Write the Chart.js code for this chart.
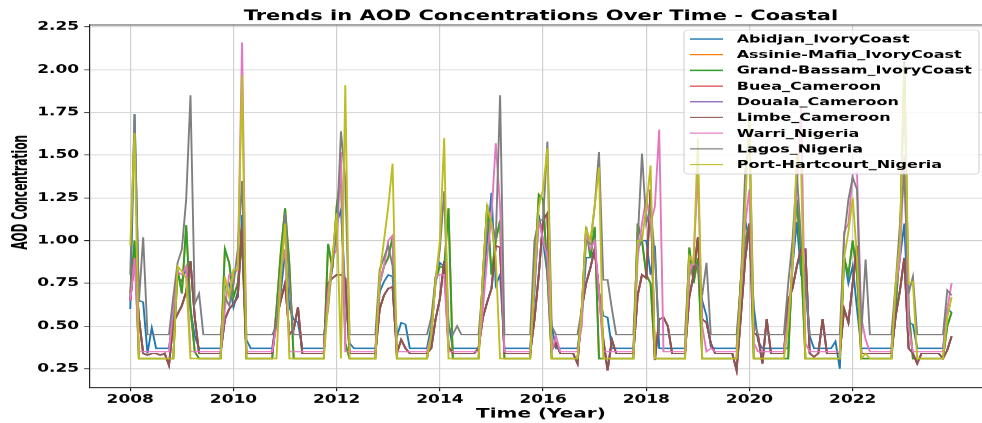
<!DOCTYPE html>
<html>
<head>
<meta charset="utf-8">
<title>Trends in AOD Concentrations Over Time - Coastal</title>
<script src="https://cdn.jsdelivr.net/npm/chart.js@4.4.1/dist/chart.umd.min.js"></script>
<style>
  html, body { margin: 0; padding: 0; background: #ffffff; overflow: hidden; }
  #wrap { width: 1000px; height: 627px; transform: scaleY(0.6746); transform-origin: 0 0; }
  canvas { display: block; }
</style>
</head>
<body>
<div id="wrap"><canvas id="aod" width="1000" height="627"></canvas></div>
<script>
// Monthly AOD series, Jan 2008 - Dec 2023 (one row per year, Jan..Dec)
const firstYear = 2008;
const yearTicks = [2008, 2010, 2012, 2014, 2016, 2018, 2020, 2022];
const aodTicks = [0.25, 0.5, 0.75, 1.0, 1.25, 1.5, 1.75, 2.0, 2.25];

const stations = [
  'Abidjan_IvoryCoast', 'Assinie-Mafia_IvoryCoast', 'Grand-Bassam_IvoryCoast',
  'Buea_Cameroon', 'Douala_Cameroon', 'Limbe_Cameroon',
  'Warri_Nigeria', 'Lagos_Nigeria', 'Port-Hartcourt_Nigeria'
];
const palette = ['#1f77b4', '#ff7f0e', '#2ca02c', '#d62728', '#9467bd', '#8c564b', '#e377c2', '#7f7f7f', '#bcbd22'];

const abidjan = [
  0.60,1.74,0.65,0.64,0.34,0.49,0.37,0.37,0.37,0.37,0.55,0.79,
  0.76,0.84,0.60,0.44,0.37,0.37,0.37,0.37,0.37,0.37,0.73,0.75,
  0.61,0.70,1.15,0.42,0.37,0.37,0.37,0.37,0.37,0.37,0.54,0.70,
  0.93,0.61,0.54,0.52,0.37,0.37,0.37,0.37,0.37,0.37,0.70,0.84,
  1.10,1.18,0.70,0.40,0.37,0.37,0.37,0.37,0.37,0.37,0.70,0.76,
  0.80,0.79,0.44,0.52,0.51,0.37,0.37,0.37,0.37,0.37,0.50,0.75,
  0.87,0.85,0.52,0.37,0.37,0.37,0.37,0.37,0.37,0.37,0.70,1.00,
  1.28,0.74,0.80,0.37,0.37,0.37,0.37,0.37,0.37,0.37,0.70,1.15,
  1.00,0.80,0.50,0.37,0.37,0.37,0.37,0.37,0.37,0.55,0.90,0.90,
  0.95,0.70,0.56,0.55,0.37,0.37,0.37,0.37,0.37,0.37,0.95,1.00,
  1.00,0.80,0.97,0.37,0.37,0.37,0.37,0.37,0.37,0.37,0.80,0.85,
  0.84,0.65,0.56,0.38,0.37,0.37,0.37,0.37,0.37,0.37,0.78,1.12,
  1.00,0.61,0.41,0.37,0.37,0.37,0.37,0.37,0.37,0.37,0.85,1.11,
  0.80,0.72,0.44,0.37,0.37,0.37,0.37,0.37,0.41,0.25,0.91,0.75,
  0.85,0.60,0.37,0.37,0.37,0.37,0.37,0.37,0.37,0.37,0.70,0.90,
  1.10,0.52,0.51,0.37,0.37,0.37,0.37,0.37,0.37,0.37,0.60,0.58
];

// Assinie-Mafia and Grand-Bassam share one grid cell
const grandBassam = [
  0.69,1.00,0.31,0.31,0.31,0.31,0.31,0.31,0.31,0.31,0.31,0.83,
  0.69,1.09,0.60,0.35,0.31,0.31,0.31,0.31,0.31,0.31,0.95,0.87,
  0.67,0.75,1.00,0.31,0.31,0.31,0.31,0.31,0.31,0.31,0.60,0.93,
  1.19,0.86,0.31,0.31,0.31,0.31,0.31,0.31,0.31,0.31,0.98,0.84,
  1.20,1.39,0.40,0.31,0.31,0.31,0.31,0.31,0.31,0.31,0.75,0.85,
  0.90,1.02,0.31,0.31,0.31,0.31,0.31,0.31,0.31,0.31,0.45,0.78,
  0.85,0.84,1.19,0.31,0.31,0.31,0.31,0.31,0.31,0.31,0.80,1.21,
  0.80,1.00,1.12,0.31,0.31,0.31,0.31,0.31,0.31,0.31,0.80,1.27,
  1.24,0.80,0.31,0.31,0.31,0.31,0.31,0.31,0.31,0.60,1.08,0.90,
  1.08,0.31,0.31,0.31,0.31,0.31,0.31,0.31,0.31,0.31,1.10,1.00,
  0.80,0.75,0.31,0.31,0.31,0.31,0.31,0.31,0.31,0.31,0.96,0.75,
  0.90,0.31,0.31,0.31,0.31,0.31,0.31,0.31,0.31,0.31,0.77,1.00,
  1.10,0.31,0.31,0.31,0.31,0.31,0.31,0.31,0.31,0.31,0.90,1.24,
  0.90,0.31,0.31,0.31,0.31,0.31,0.31,0.31,0.31,0.31,0.90,0.80,
  1.00,0.80,0.31,0.31,0.31,0.31,0.31,0.31,0.31,0.31,0.60,1.00,
  2.05,0.60,0.31,0.31,0.31,0.31,0.31,0.31,0.31,0.31,0.50,0.58
];

// Buea, Douala and Limbe share one grid cell
const cameroon = [
  0.65,0.90,0.55,0.34,0.33,0.34,0.34,0.33,0.34,0.27,0.52,0.57,
  0.62,0.70,0.88,0.55,0.34,0.34,0.34,0.34,0.34,0.34,0.54,0.60,
  0.63,0.67,1.09,0.34,0.34,0.34,0.34,0.34,0.34,0.34,0.54,0.65,
  0.75,0.45,0.48,0.61,0.34,0.34,0.34,0.34,0.34,0.34,0.75,0.78,
  0.80,0.80,0.78,0.34,0.34,0.34,0.34,0.34,0.34,0.34,0.60,0.68,
  0.72,0.73,0.34,0.42,0.37,0.34,0.34,0.34,0.34,0.34,0.37,0.54,
  0.66,0.88,0.38,0.34,0.34,0.34,0.34,0.34,0.34,0.37,0.55,0.64,
  0.72,0.97,0.96,0.34,0.34,0.34,0.34,0.34,0.34,0.34,0.54,0.80,
  1.12,1.16,0.36,0.40,0.34,0.34,0.34,0.34,0.28,0.60,0.75,0.84,
  0.95,0.70,0.42,0.24,0.42,0.34,0.34,0.34,0.34,0.34,0.68,0.80,
  0.78,1.30,0.30,0.54,0.55,0.50,0.34,0.34,0.34,0.34,0.67,0.80,
  1.02,0.54,0.52,0.40,0.34,0.34,0.34,0.34,0.34,0.24,0.56,0.89,
  1.10,0.46,0.44,0.28,0.54,0.34,0.34,0.34,0.34,0.65,0.72,0.85,
  0.95,0.95,0.34,0.32,0.34,0.54,0.34,0.34,0.34,0.34,0.60,0.52,
  0.75,0.97,0.34,0.34,0.34,0.34,0.34,0.34,0.34,0.34,0.56,0.71,
  0.90,0.37,0.34,0.28,0.34,0.34,0.34,0.34,0.34,0.31,0.36,0.44
];

const warri = [
  0.65,0.90,0.35,0.35,0.35,0.35,0.35,0.35,0.35,0.35,0.60,0.82,
  0.80,0.85,0.35,0.35,0.35,0.35,0.35,0.35,0.35,0.35,0.60,0.80,
  0.80,0.83,2.16,0.35,0.35,0.35,0.35,0.35,0.35,0.35,0.50,0.82,
  0.95,0.35,0.35,0.35,0.35,0.35,0.35,0.35,0.35,0.35,0.70,0.90,
  0.95,1.52,0.35,0.35,0.35,0.35,0.35,0.35,0.35,0.35,0.75,0.85,
  1.00,1.03,0.35,0.35,0.35,0.35,0.35,0.35,0.35,0.35,0.45,0.79,
  0.80,0.80,0.35,0.35,0.35,0.35,0.35,0.35,0.35,0.35,0.60,0.90,
  1.15,1.57,1.20,0.35,0.35,0.35,0.35,0.35,0.35,0.35,0.75,1.12,
  1.00,0.90,0.35,0.44,0.35,0.35,0.35,0.35,0.35,0.50,1.05,0.95,
  1.00,0.70,0.35,0.35,0.35,0.35,0.35,0.35,0.35,0.35,0.90,1.10,
  1.25,1.10,1.20,1.65,0.35,0.35,0.35,0.35,0.35,0.35,0.80,0.90,
  1.40,0.50,0.35,0.37,0.35,0.35,0.35,0.35,0.35,0.35,0.70,1.10,
  1.30,0.40,0.35,0.35,0.35,0.35,0.35,0.35,0.35,0.55,0.85,1.30,
  1.78,0.40,0.35,0.35,0.35,0.35,0.35,0.35,0.35,0.35,1.05,1.10,
  1.39,1.40,0.55,0.42,0.35,0.35,0.35,0.35,0.35,0.35,0.72,0.90,
  1.50,0.50,0.35,0.35,0.35,0.35,0.35,0.35,0.35,0.35,0.60,0.75
];

const lagos = [
  0.80,1.74,0.64,1.02,0.45,0.45,0.45,0.45,0.45,0.45,0.67,0.87,
  0.95,1.24,1.85,0.63,0.69,0.45,0.45,0.45,0.45,0.45,0.67,0.62,
  0.74,0.95,1.35,0.45,0.45,0.45,0.45,0.45,0.45,0.45,0.50,0.75,
  1.16,0.75,0.45,0.45,0.45,0.45,0.45,0.45,0.45,0.45,0.60,0.87,
  1.05,1.64,1.35,0.45,0.45,0.45,0.45,0.45,0.45,0.45,0.83,0.90,
  0.97,0.85,0.45,0.45,0.45,0.45,0.45,0.45,0.45,0.45,0.55,0.78,
  0.95,1.29,0.50,0.45,0.50,0.45,0.45,0.45,0.45,0.45,0.75,1.10,
  1.12,1.00,1.85,0.45,0.45,0.45,0.45,0.45,0.45,0.45,1.00,1.12,
  1.12,1.58,0.50,0.45,0.45,0.45,0.45,0.45,0.45,0.60,1.00,0.98,
  1.20,1.52,0.77,0.77,0.60,0.45,0.45,0.45,0.45,0.45,1.00,1.51,
  1.10,1.20,0.90,0.45,0.45,0.45,0.45,0.45,0.45,0.45,0.90,0.87,
  0.85,0.68,0.87,0.45,0.45,0.45,0.45,0.45,0.45,0.45,0.75,1.40,
  1.60,0.52,0.45,0.45,0.45,0.45,0.45,0.45,0.45,0.75,1.00,1.40,
  1.00,0.75,0.45,0.45,0.45,0.45,0.45,0.45,0.45,0.45,1.02,1.24,
  1.37,1.30,0.45,0.89,0.45,0.45,0.45,0.45,0.45,0.45,0.75,1.10,
  1.40,0.69,0.79,0.45,0.45,0.45,0.45,0.45,0.45,0.45,0.71,0.68
];

const portHarcourt = [
  0.97,1.63,0.31,0.31,0.31,0.31,0.31,0.31,0.31,0.31,0.31,0.85,
  0.82,0.78,0.31,0.31,0.31,0.31,0.31,0.31,0.31,0.31,0.79,0.67,
  0.83,0.83,1.97,0.31,0.31,0.31,0.31,0.31,0.31,0.31,0.31,0.80,
  1.10,0.31,0.31,0.31,0.31,0.31,0.31,0.31,0.31,0.31,0.63,0.90,
  1.16,0.31,1.91,0.31,0.31,0.31,0.31,0.31,0.31,0.31,0.80,1.00,
  1.20,1.45,0.31,0.31,0.31,0.31,0.31,0.31,0.31,0.31,0.45,0.76,
  1.00,1.60,0.31,0.31,0.31,0.31,0.31,0.31,0.31,0.31,0.80,1.20,
  1.10,0.90,0.31,0.31,0.31,0.31,0.31,0.31,0.31,0.31,0.80,1.20,
  1.30,1.54,0.31,0.31,0.31,0.31,0.31,0.31,0.31,0.60,1.07,1.00,
  1.20,1.43,0.31,0.31,0.31,0.31,0.31,0.31,0.31,0.31,1.00,1.00,
  1.20,1.44,0.31,0.31,0.31,0.31,0.31,0.31,0.31,0.31,0.91,0.87,
  1.60,0.31,0.31,0.31,0.31,0.31,0.31,0.31,0.31,0.31,0.73,1.20,
  1.75,0.31,0.31,0.31,0.31,0.31,0.31,0.31,0.31,0.50,0.85,1.50,
  1.43,0.31,0.31,0.31,0.31,0.31,0.31,0.31,0.31,0.31,0.90,1.05,
  1.25,0.90,0.31,0.34,0.31,0.31,0.31,0.31,0.31,0.31,0.75,1.00,
  2.00,0.75,0.76,0.31,0.31,0.31,0.31,0.31,0.31,0.31,0.55,0.67
];

const seriesValues = [abidjan, grandBassam, grandBassam, cameroon, cameroon, cameroon, warri, lagos, portHarcourt];

// decimal-year position of each monthly sample
const toPoints = vals => vals.map((v, k) => ({ x: firstYear + k / 12, y: v }));

const datasets = stations.map((name, i) => ({
  label: name,
  data: toPoints(seriesValues[i]),
  borderColor: palette[i],
  backgroundColor: palette[i],
  borderWidth: 1.9,
  pointRadius: 0,
  tension: 0,
  fill: false,
  order: stations.length - 1 - i
}));

const tickFont = { family: 'DejaVu Sans', size: 17, weight: 'bold' };

// frame, titles and an in-axes legend
const decorations = {
  id: 'decorations',
  afterDraw(chart) {
    const { ctx, chartArea: a } = chart;
    ctx.save();
    ctx.strokeStyle = '#222';
    ctx.lineWidth = 1.2;
    ctx.beginPath();
    ctx.moveTo(a.left, a.top);
    ctx.lineTo(a.right, a.top);
    ctx.stroke();

    ctx.fillStyle = '#000';
    ctx.textAlign = 'center';
    ctx.textBaseline = 'alphabetic';
    ctx.font = 'bold 21px "DejaVu Sans"';
    ctx.fillText('Trends in AOD Concentrations Over Time - Coastal', (a.left + a.right) / 2, 29.6);

    ctx.font = 'bold 20px "DejaVu Sans"';
    ctx.fillText('Time (Year)', (a.left + a.right) / 2, 618.5);

    // narrow rotated axis label, fitted to a fixed run length
    ctx.save();
    ctx.translate(26.7, 285);
    ctx.rotate(-Math.PI / 2);
    ctx.font = 'bold 21px "Liberation Sans Narrow", "DejaVu Sans Condensed", "Liberation Sans"';
    const yTitle = 'AOD Concentration';
    const w = ctx.measureText(yTitle).width;
    ctx.scale(170 / w, 1);
    ctx.fillText(yTitle, 0, 0);
    ctx.restore();

    // legend box
    const bx = 684, by = 44.4, bw = 295, bh = 213.6;
    ctx.beginPath();
    ctx.roundRect(bx, by, bw, bh, 4);
    ctx.fillStyle = 'rgba(255,255,255,0.8)';
    ctx.fill();
    ctx.strokeStyle = '#cccccc';
    ctx.lineWidth = 1;
    ctx.stroke();

    ctx.font = 'bold 16px "DejaVu Sans"';
    ctx.textAlign = 'left';
    ctx.textBaseline = 'middle';
    stations.forEach((name, i) => {
      const y = 57.8 + 23.26 * i;
      ctx.strokeStyle = palette[i];
      ctx.lineWidth = 1.9;
      ctx.beginPath();
      ctx.moveTo(690, y);
      ctx.lineTo(723, y);
      ctx.stroke();
      ctx.fillStyle = '#000';
      ctx.fillText(name, 736.7, y + 1);
    });
    ctx.restore();
  }
};

new Chart(document.getElementById('aod'), {
  type: 'line',
  data: { datasets },
  options: {
    responsive: false,
    animation: false,
    devicePixelRatio: 1,
    layout: { padding: { top: 37, right: 7.3, left: 0, bottom: 0 } },
    plugins: { legend: { display: false }, title: { display: false }, tooltip: { enabled: false } },
    scales: {
      x: {
        type: 'linear',
        min: 2007.204,
        max: 2024.713,
        afterBuildTicks: s => { s.ticks = yearTicks.map(v => ({ value: v })); },
        afterFit: s => { s.height = 52; },
        ticks: { font: tickFont, color: '#000', padding: 2, maxRotation: 0, autoSkip: false, callback: v => String(v) },
        grid: { color: '#d0d0d0', lineWidth: 1.2, tickLength: 5, tickColor: '#222' },
        border: { color: '#222', width: 1.2 }
      },
      y: {
        min: 0.138,
        max: 2.262,
        afterBuildTicks: s => { s.ticks = aodTicks.map(v => ({ value: v })); },
        afterFit: s => { s.width = 89.2; },
        ticks: { font: tickFont, color: '#000', padding: 5, callback: v => v.toFixed(2) },
        grid: { color: '#d0d0d0', lineWidth: 1.2, tickLength: 5, tickColor: '#222' },
        border: { color: '#222', width: 1.2 }
      }
    }
  },
  plugins: [decorations]
});
</script>
</body>
</html>
